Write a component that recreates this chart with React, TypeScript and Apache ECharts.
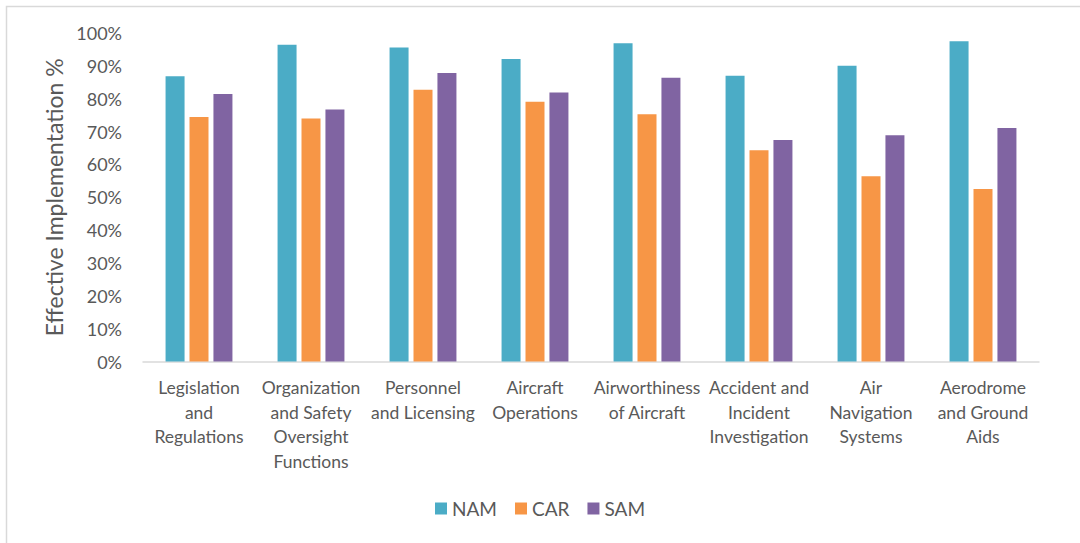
import React, { useEffect, useRef } from "react";
import * as echarts from "echarts";

const categories = [
  "Legislation\nand\nRegulations",
  "Organization\nand Safety\nOversight\nFunctions",
  "Personnel\nand Licensing",
  "Aircraft\nOperations",
  "Airworthiness\nof Aircraft",
  "Accident and\nIncident\nInvestigation",
  "Air\nNavigation\nSystems",
  "Aerodrome\nand Ground\nAids",
];
const nam = [86.8, 96.4, 95.6, 92.1, 96.9, 87.0, 90.0, 97.5];
const car = [74.4, 74.0, 82.7, 79.1, 75.3, 64.3, 56.4, 52.5];
const sam = [81.4, 76.7, 87.8, 81.9, 86.4, 67.4, 68.9, 71.1];
const yTicks = [0, 10, 20, 30, 40, 50, 60, 70, 80, 90, 100];

const FONT = "Lato";
const GRAY = "#595959";

export default function App() {
  const ref = useRef<HTMLDivElement>(null);
  useEffect(() => {
    if (!ref.current) return;
    const chart = echarts.init(ref.current, undefined, { renderer: "svg" });
    const mk = (name: string, data: number[], color: string) => ({
      name,
      type: "bar",
      data,
      barWidth: 19,
      barGap: "26%",
      itemStyle: { color },
    });
    chart.setOption({
      animation: false,
      textStyle: { fontFamily: FONT },
      graphic: [
        {
          type: "rect",
          shape: { x: 6.5, y: 6.5, width: 1080, height: 550 },
          style: { fill: "none", stroke: "#D9D9D9", lineWidth: 1.5 },
          silent: true,
        },
      ],
      grid: { left: 143, right: 41, top: 33, bottom: 181.5 },
      legend: {
        bottom: 20,
        left: "center",
        itemWidth: 12,
        itemHeight: 12,
        itemGap: 18,
        icon: "rect",
        textStyle: { color: GRAY, fontSize: 19, fontFamily: FONT },
        data: ["NAM", "CAR", "SAM"],
      },
      xAxis: {
        type: "category",
        data: categories,
        axisLine: { lineStyle: { color: "#D9D9D9", width: 1.5 } },
        axisTick: { show: false },
        axisLabel: {
          color: GRAY,
          fontSize: 17.5,
          lineHeight: 24.5,
          margin: 14,
          interval: 0,
          fontFamily: FONT,
        },
      },
      yAxis: {
        type: "value",
        min: 0,
        max: 100,
        interval: 10,
        name: "Effective Implementation %",
        nameLocation: "middle",
        nameGap: 76,
        nameTextStyle: { color: GRAY, fontSize: 23, fontFamily: FONT },
        axisLine: { show: false },
        axisTick: { show: false },
        splitLine: { show: false },
        axisLabel: {
          color: GRAY,
          fontSize: 18,
          margin: 21,
          fontFamily: FONT,
          formatter: (v: number) => (yTicks.includes(v) ? v + "%" : ""),
        },
      },
      series: [
        mk("NAM", nam, "#4BACC6"),
        mk("CAR", car, "#F79646"),
        mk("SAM", sam, "#8064A2"),
      ],
    });
    return () => chart.dispose();
  }, []);
  return <div ref={ref} style={{ width: 1080, height: 543, position: "absolute", left: 0, top: 0 }} />;
}
